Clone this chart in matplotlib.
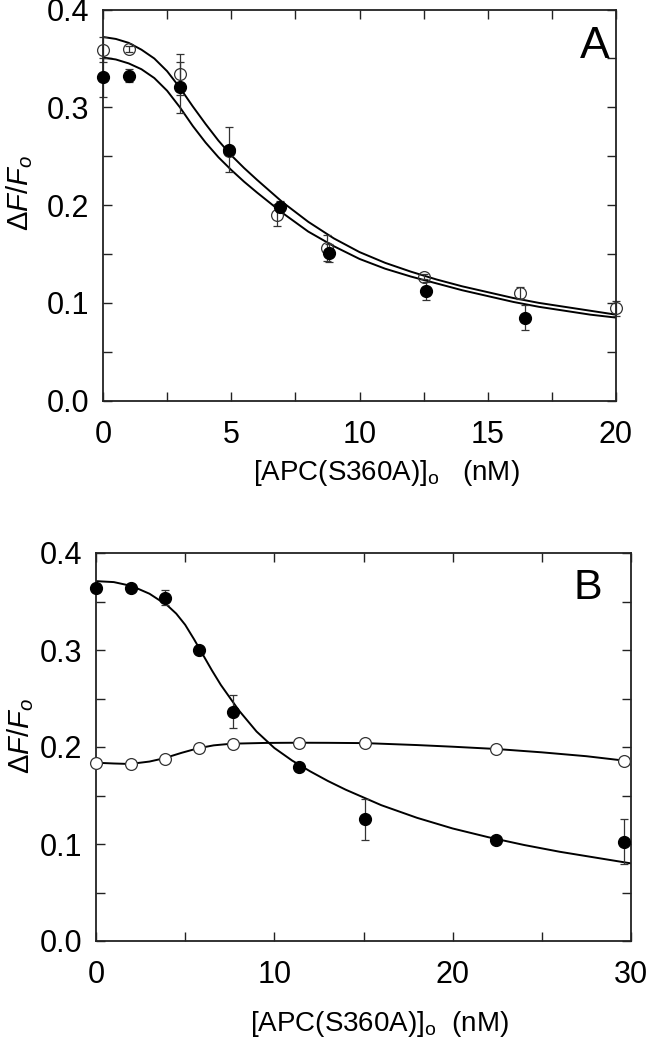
import matplotlib
matplotlib.use("Agg")
import matplotlib.pyplot as plt
from matplotlib.ticker import MultipleLocator, FormatStrFormatter

plt.rcParams['font.family'] = ['Liberation Sans', 'DejaVu Sans']
plt.rcParams['mathtext.fontset'] = 'custom'
plt.rcParams['mathtext.rm'] = 'Liberation Sans'
plt.rcParams['mathtext.it'] = 'Liberation Sans:italic'

# Panel A data (APC(S360A), two experiments)
a_open_x = [0.0, 1.0, 3.0, 4.9, 6.8, 8.75, 12.5, 16.25, 20.0]
a_open_y = [0.359, 0.360, 0.334, 0.255, 0.190, 0.156, 0.127, 0.110, 0.0945]
a_open_err = [0.013, 0.003, 0.021, 0.004, 0.011, 0.013, 0.003, 0.006, 0.0075]
a_fill_x = [0.0, 1.0, 3.0, 4.9, 6.9, 8.8, 12.6, 16.45]
a_fill_y = [0.331, 0.3325, 0.3205, 0.2565, 0.1985, 0.151, 0.1125, 0.085]
a_fill_err = [0.020, 0.007, 0.026, 0.023, 0.006, 0.009, 0.009, 0.0126]

# fitted curves, panel A
a_fit_x = [0, 0.5, 1, 1.5, 2, 2.5, 3, 3.5, 4, 4.5, 5, 5.5, 6, 7, 8, 9, 10, 11, 12, 13, 14, 15, 16, 17, 18, 19, 20]
a_fit_open = [0.372, 0.370, 0.366, 0.359, 0.350, 0.337, 0.320, 0.301, 0.283, 0.266, 0.251, 0.238, 0.226,
              0.203, 0.183, 0.166, 0.152, 0.141, 0.132, 0.124, 0.117, 0.111, 0.105, 0.100, 0.096, 0.092, 0.088]
a_fit_fill = [0.351, 0.349, 0.345, 0.339, 0.330, 0.317, 0.300, 0.281, 0.264, 0.249, 0.236, 0.224, 0.213,
              0.192, 0.173, 0.158, 0.145, 0.135, 0.127, 0.120, 0.113, 0.107, 0.101, 0.096, 0.092, 0.088, 0.085]

# Panel B data
b_x = [0.0, 1.95, 3.88, 5.76, 7.67, 11.4, 15.07, 22.43, 29.6]
b_fill_y = [0.364, 0.3635, 0.354, 0.300, 0.2365, 0.1797, 0.1255, 0.1041, 0.1024]
b_fill_err = [0.004, 0.003, 0.008, 0.003, 0.017, 0.004, 0.021, 0.002, 0.023]
b_open_y = [0.184, 0.1825, 0.188, 0.1986, 0.203, 0.2038, 0.2038, 0.1976, 0.1856]

b_fit_x = [0, 1, 2, 3, 4, 4.5, 5, 5.5, 6, 6.5, 7, 8, 9, 10, 11, 12, 13, 14, 16, 18, 20, 22, 24, 26, 28, 30]
b_fit_fill = [0.371, 0.370, 0.366, 0.358, 0.346, 0.3375, 0.326, 0.311, 0.295, 0.279, 0.264, 0.238, 0.216,
              0.199, 0.186, 0.175, 0.165, 0.156, 0.140, 0.127, 0.116, 0.107, 0.099, 0.092, 0.086, 0.080]
b_fit_open_x = [0, 1, 1.9, 3, 3.8, 4.8, 5.7, 6.6, 7.6, 9.5, 11.4, 13, 15.1, 18, 20, 22.4, 25, 27.5, 29.6]
b_fit_open = [0.1838, 0.1830, 0.1825, 0.1850, 0.1883, 0.1940, 0.1986, 0.2017, 0.2034, 0.2042, 0.2044,
              0.2043, 0.2040, 0.2020, 0.2003, 0.1980, 0.1945, 0.1905, 0.1860]

fig = plt.figure(figsize=(6.5, 10.39), dpi=100)
axA = fig.add_axes([103 / 650, 1 - 400.7 / 1039, 513 / 650, 391.1 / 1039])
axB = fig.add_axes([96 / 650, 1 - 941 / 1039, 535 / 650, 388 / 1039])

ms = 8.5
ebar = dict(fmt='none', ecolor='#333333', elinewidth=0.9, capsize=3.2, capthick=0.9, clip_on=False)


def style(ax, xmax, xmajor, xminor, xlabel_x, xlabel_y, ylabel_x, ylabel_y, xlabel):
    ax.set_xlim(0, xmax)
    ax.set_ylim(0, 0.4)
    ax.xaxis.set_major_locator(MultipleLocator(xmajor))
    ax.xaxis.set_minor_locator(MultipleLocator(xminor))
    ax.yaxis.set_major_locator(MultipleLocator(0.1))
    ax.yaxis.set_minor_locator(MultipleLocator(0.05))
    ax.yaxis.set_major_formatter(FormatStrFormatter('%.1f'))
    ax.tick_params(which='both', direction='in', top=True, right=True, length=6.5, width=1.0,
                   color='#222222')
    ax.tick_params(axis='y', which='major', labelsize=22, pad=10)
    ax.tick_params(axis='x', which='major', labelsize=22, pad=14)
    for s in ax.spines.values():
        s.set_linewidth(1.3)
        s.set_color('#222222')
    ax.set_xlabel(xlabel, fontsize=20, va='center')
    ax.xaxis.set_label_coords(xlabel_x, xlabel_y)
    ax.set_ylabel(r'$\mathit{\Delta F/F}_{\mathit{o}}$', fontsize=21, va='center')
    ax.yaxis.set_label_coords(ylabel_x, ylabel_y)


# Panel A
axA.plot(a_fit_x, a_fit_open, color='black', lw=1.4)
axA.plot(a_fit_x, a_fit_fill, color='black', lw=1.4)
axA.errorbar(a_open_x, a_open_y, yerr=a_open_err, **ebar)
axA.errorbar(a_fill_x, a_fill_y, yerr=a_fill_err, **ebar)
axA.plot(a_open_x, a_open_y, 'o', ms=ms, mfc='none', mec='#333333', mew=0.9, clip_on=False, zorder=4)
axA.plot(a_fill_x, a_fill_y, 'o', ms=ms, mfc='black', mec='black', clip_on=False, zorder=5)
axA.text(0.958, 0.905, 'A', transform=axA.transAxes, fontsize=32, ha='center', va='center')
style(axA, 20, 5, 2.5, 0.552, -0.185, -0.162, 0.531, r'[APC(S360A)]$_\mathrm{o}$   (nM)')

# Panel B
axB.plot(b_fit_x, b_fit_fill, color='black', lw=1.4)
axB.plot(b_fit_open_x, b_fit_open, color='black', lw=1.4)
axB.errorbar(b_x, b_fill_y, yerr=b_fill_err, **ebar)
axB.plot(b_x, b_open_y, 'o', ms=ms, mfc='white', mec='#333333', mew=0.9, clip_on=False, zorder=4)
axB.plot(b_x, b_fill_y, 'o', ms=ms, mfc='black', mec='black', clip_on=False, zorder=5)
axB.text(0.92, 0.91, 'B', transform=axB.transAxes, fontsize=31, ha='center', va='center')
style(axB, 30, 10, 5, 0.529, -0.213, -0.141, 0.528, r'[APC(S360A)]$_\mathrm{o}$  (nM)')

fig.savefig('out.png', dpi=100)
